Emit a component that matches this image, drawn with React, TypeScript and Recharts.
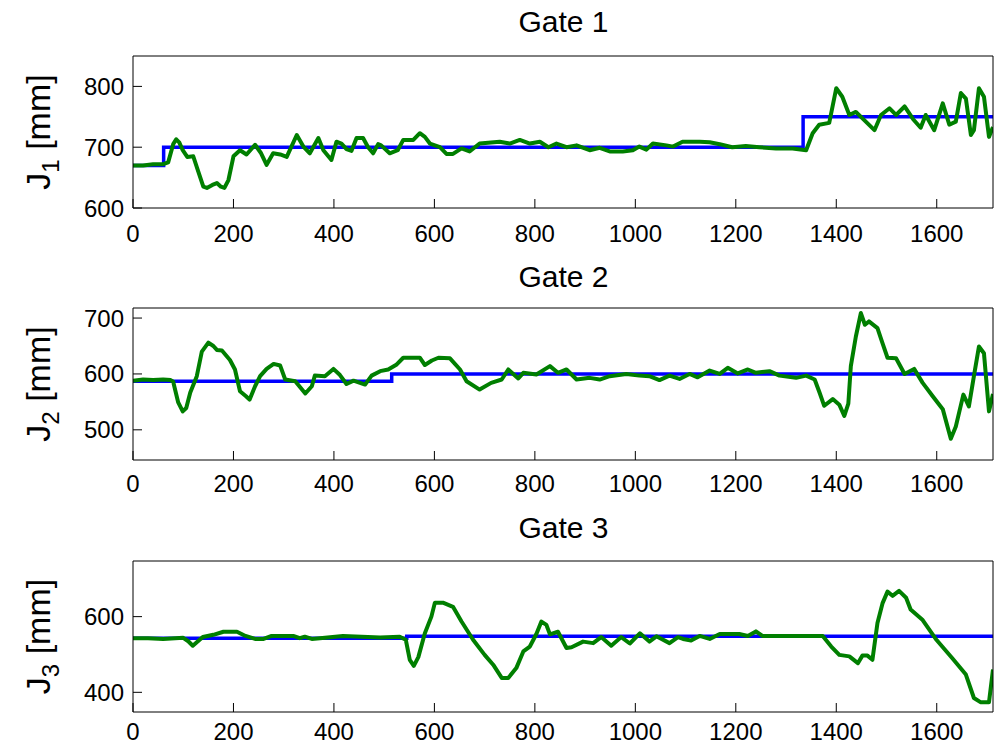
import React from "react";
import { LineChart, Line, XAxis, YAxis } from "recharts";

// x axis shared by the three gates (the figure is cut at the right edge)
const xMax = 1712;
const xTicks = [0, 200, 400, 600, 800, 1000, 1200, 1400, 1600];

// Gate 1 - reference (step) and measured level
const ref1X = [0, 61, 1334, 1712];
const ref1Y = [670, 700, 750, 750];
const gate1X = [
  0, 20, 40, 60, 70, 80, 86, 92, 99, 108, 120, 130, 140, 147, 158, 167, 175, 182, 190, 200,
  213, 226, 243, 255, 266, 279, 293, 306, 326, 340, 352, 369, 379, 395, 405, 415, 425, 435, 445, 458,
  468, 478, 488, 494, 511, 527, 538, 558, 571, 581, 591, 611, 624, 637, 654, 670, 690, 730, 750, 770,
  790, 810, 827, 843, 863, 883, 909, 929, 949, 975, 995, 1008, 1022, 1035, 1062, 1075, 1094, 1128, 1148, 1168,
  1193, 1220, 1247, 1280, 1313, 1340, 1353, 1366, 1386, 1400, 1412, 1426, 1439, 1476, 1489, 1506, 1519, 1536, 1553, 1568,
  1578, 1595, 1612, 1625, 1638, 1648, 1658, 1668, 1674, 1684, 1694, 1704, 1712,
];
const gate1Y = [
  670, 670, 672, 672, 675, 705, 713, 708, 695, 684, 685, 660, 635, 633, 638, 641, 635, 633, 646, 685,
  695, 688, 704, 690, 671, 690, 688, 684, 720, 700, 690, 715, 695, 679, 709, 706, 697, 694, 715, 715,
  700, 690, 705, 703, 690, 695, 712, 712, 723, 717, 706, 700, 689, 689, 698, 693, 706, 709, 706, 712,
  706, 709, 700, 706, 700, 703, 695, 699, 693, 693, 695, 701, 696, 706, 703, 701, 709, 709, 708, 705,
  700, 702, 700, 698, 698, 695, 723, 737, 740, 797, 783, 753, 758, 728, 753, 764, 753, 767, 746, 732,
  753, 728, 772, 737, 742, 789, 780, 720, 728, 797, 783, 717, 733,
];

// Gate 2
const ref2X = [0, 515, 1712];
const ref2Y = [587, 600, 600];
const gate2X = [
  0, 20, 40, 60, 75, 80, 90, 99, 106, 114, 127, 137, 150, 160, 167, 177, 193, 203, 213, 225,
  232, 243, 253, 266, 280, 293, 303, 323, 343, 356, 362, 382, 399, 412, 425, 439, 462, 475, 492, 508,
  525, 538, 571, 581, 595, 608, 631, 651, 664, 690, 713, 734, 747, 767, 777, 803, 830, 846, 863, 883,
  909, 929, 949, 982, 1008, 1028, 1048, 1068, 1088, 1108, 1124, 1148, 1168, 1184, 1204, 1224, 1240, 1267, 1287, 1320,
  1340, 1357, 1367, 1376, 1393, 1406, 1416, 1424, 1429, 1439, 1449, 1457, 1465, 1482, 1492, 1502, 1519, 1536, 1555, 1572,
  1592, 1612, 1628, 1638, 1653, 1664, 1674, 1684, 1694, 1704, 1712,
];
const gate2Y = [
  588, 590, 589, 590, 589, 586, 549, 533, 539, 567, 596, 640, 656, 650, 643, 642, 625, 608, 569, 560,
  554, 578, 596, 609, 618, 615, 590, 587, 565, 578, 597, 596, 609, 598, 582, 588, 581, 597, 605, 608,
  617, 629, 629, 616, 624, 629, 628, 608, 587, 572, 584, 590, 608, 592, 602, 599, 614, 602, 608, 590,
  593, 590, 596, 600, 597, 596, 589, 597, 591, 600, 594, 606, 600, 611, 601, 608, 602, 605, 597, 593,
  597, 590, 566, 543, 555, 545, 525, 547, 614, 667, 709, 688, 694, 682, 655, 629, 628, 600, 609, 584,
  560, 537, 484, 506, 563, 542, 596, 649, 637, 533, 564,
];

// Gate 3
const ref3X = [0, 545, 1712];
const ref3Y = [543, 548, 548];
const gate3X = [
  0, 30, 60, 100, 110, 119, 139, 160, 180, 207, 224, 243, 260, 276, 319, 332, 342, 356, 372, 418,
  492, 531, 543, 551, 559, 568, 581, 594, 601, 617, 637, 654, 677, 700, 717, 734, 747, 763, 777, 790,
  803, 813, 823, 830, 846, 863, 873, 896, 916, 932, 952, 972, 989, 1009, 1028, 1042, 1068, 1085, 1095, 1111,
  1128, 1148, 1168, 1207, 1224, 1240, 1253, 1373, 1390, 1406, 1426, 1443, 1452, 1462, 1472, 1482, 1492, 1502, 1512, 1525,
  1539, 1548, 1572, 1598, 1631, 1658, 1674, 1687, 1704, 1712,
];
const gate3Y = [
  543, 543, 541, 544, 535, 523, 546, 552, 560, 560, 549, 541, 541, 549, 549, 543, 547, 541, 543, 549,
  545, 547, 539, 486, 470, 493, 556, 600, 637, 637, 626, 587, 539, 499, 473, 438, 438, 464, 508, 521,
  554, 587, 578, 553, 560, 517, 519, 534, 530, 546, 523, 546, 529, 556, 534, 548, 530, 546, 541, 537,
  549, 541, 554, 554, 549, 561, 549, 549, 521, 499, 495, 477, 497, 497, 486, 583, 635, 666, 655, 668,
  650, 619, 591, 541, 490, 447, 385, 374, 374, 460,
];

const toRows = (xs: number[], ys: number[]) => xs.map((x, i) => ({ x, v: ys[i] }));

const font = "'Liberation Sans', Arial, Helvetica, sans-serif";
const tickStyle = { fontSize: 24, fill: "#000", fontFamily: font };
const lineStyle = { stroke: "#000", strokeWidth: 1 };

type PanelProps = {
  title: string;
  sub: string;
  top: number;
  height: number;
  titleY: number;
  marginTop: number;
  xAxisHeight: number;
  xTickGap: number;
  yDomain: [number, number];
  yTicks: number[];
  refRows: { x: number; v: number }[];
  gateRows: { x: number; v: number }[];
};

function Panel(p: PanelProps) {
  const plotH = p.height - p.marginTop - p.xAxisHeight;
  const yLabel = () => {
    const cy = p.marginTop + plotH / 2;
    return (
      <text
        transform={`translate(50,${cy}) rotate(-90)`}
        textAnchor="middle"
        fontSize={34}
        fontFamily={font}
        fill="#000"
      >
        J
        <tspan fontSize={24} dy={9}>
          {p.sub}
        </tspan>
        <tspan dy={-9}> [mm]</tspan>
      </text>
    );
  };
  return (
    <div style={{ position: "absolute", left: 0, top: p.top, width: 994, height: p.height }}>
      <div
        style={{
          position: "absolute",
          left: 133,
          width: 861,
          top: p.titleY - 18,
          height: 36,
          lineHeight: "36px",
          textAlign: "center",
          fontSize: 30,
          fontFamily: font,
          color: "#000",
        }}
      >
        {p.title}
      </div>
      <LineChart
        width={994}
        height={p.height}
        margin={{ top: p.marginTop - 1, right: 0, bottom: 0, left: 0 }}
      >
        <XAxis
          dataKey="x"
          type="number"
          domain={[0, xMax]}
          ticks={xTicks}
          interval={0}
          allowDataOverflow
          height={p.xAxisHeight}
          tickSize={-9}
          tickMargin={p.xTickGap}
          tick={tickStyle}
          axisLine={lineStyle}
          tickLine={lineStyle}
        />
        {/* top and right axes only draw the rest of the box and its inward ticks */}
        <XAxis
          xAxisId="top"
          orientation="top"
          dataKey="x"
          type="number"
          domain={[0, xMax]}
          ticks={xTicks}
          interval={0}
          allowDataOverflow
          height={1}
          tickSize={-9}
          tick={false}
          axisLine={lineStyle}
          tickLine={lineStyle}
        />
        <YAxis
          type="number"
          domain={p.yDomain}
          ticks={p.yTicks}
          interval={0}
          allowDataOverflow
          width={133}
          tickSize={-9}
          tickMargin={18}
          tick={tickStyle}
          axisLine={lineStyle}
          tickLine={lineStyle}
          label={{ content: yLabel }}
        />
        <YAxis
          yAxisId="right"
          orientation="right"
          type="number"
          domain={p.yDomain}
          ticks={p.yTicks}
          interval={0}
          allowDataOverflow
          width={1}
          tickSize={-9}
          tick={false}
          axisLine={lineStyle}
          tickLine={lineStyle}
        />
        <Line
          data={p.refRows}
          dataKey="v"
          type="stepAfter"
          stroke="#0000FF"
          strokeWidth={3.5}
          dot={false}
          isAnimationActive={false}
        />
        {/* same domains as the bottom/left axes, so the mapping is identical */}
        <Line
          xAxisId="top"
          yAxisId="right"
          data={p.gateRows}
          dataKey="v"
          type="linear"
          stroke="#007F00"
          strokeWidth={4}
          strokeLinejoin="round"
          dot={false}
          isAnimationActive={false}
        />
      </LineChart>
    </div>
  );
}

export default function App() {
  return (
    <div style={{ position: "absolute", left: 0, top: 0, width: 994, height: 748, background: "#fff", overflow: "hidden", fontFamily: font }}>
      <Panel
        title="Gate 1"
        sub="1"
        top={0}
        height={250}
        titleY={22}
        marginTop={56}
        xAxisHeight={42}
        xTickGap={26}
        yDomain={[600, 850]}
        yTicks={[600, 700, 800]}
        refRows={toRows(ref1X, ref1Y)}
        gateRows={toRows(gate1X, gate1Y)}
      />
      <Panel
        title="Gate 2"
        sub="2"
        top={250}
        height={250}
        titleY={27}
        marginTop={58}
        xAxisHeight={40}
        xTickGap={24}
        yDomain={[446, 718]}
        yTicks={[500, 600, 700]}
        refRows={toRows(ref2X, ref2Y)}
        gateRows={toRows(gate2X, gate2Y)}
      />
      <Panel
        title="Gate 3"
        sub="3"
        top={500}
        height={248}
        titleY={28}
        marginTop={61}
        xAxisHeight={36}
        xTickGap={20}
        yDomain={[348, 747]}
        yTicks={[400, 600]}
        refRows={toRows(ref3X, ref3Y)}
        gateRows={toRows(gate3X, gate3Y)}
      />
    </div>
  );
}
